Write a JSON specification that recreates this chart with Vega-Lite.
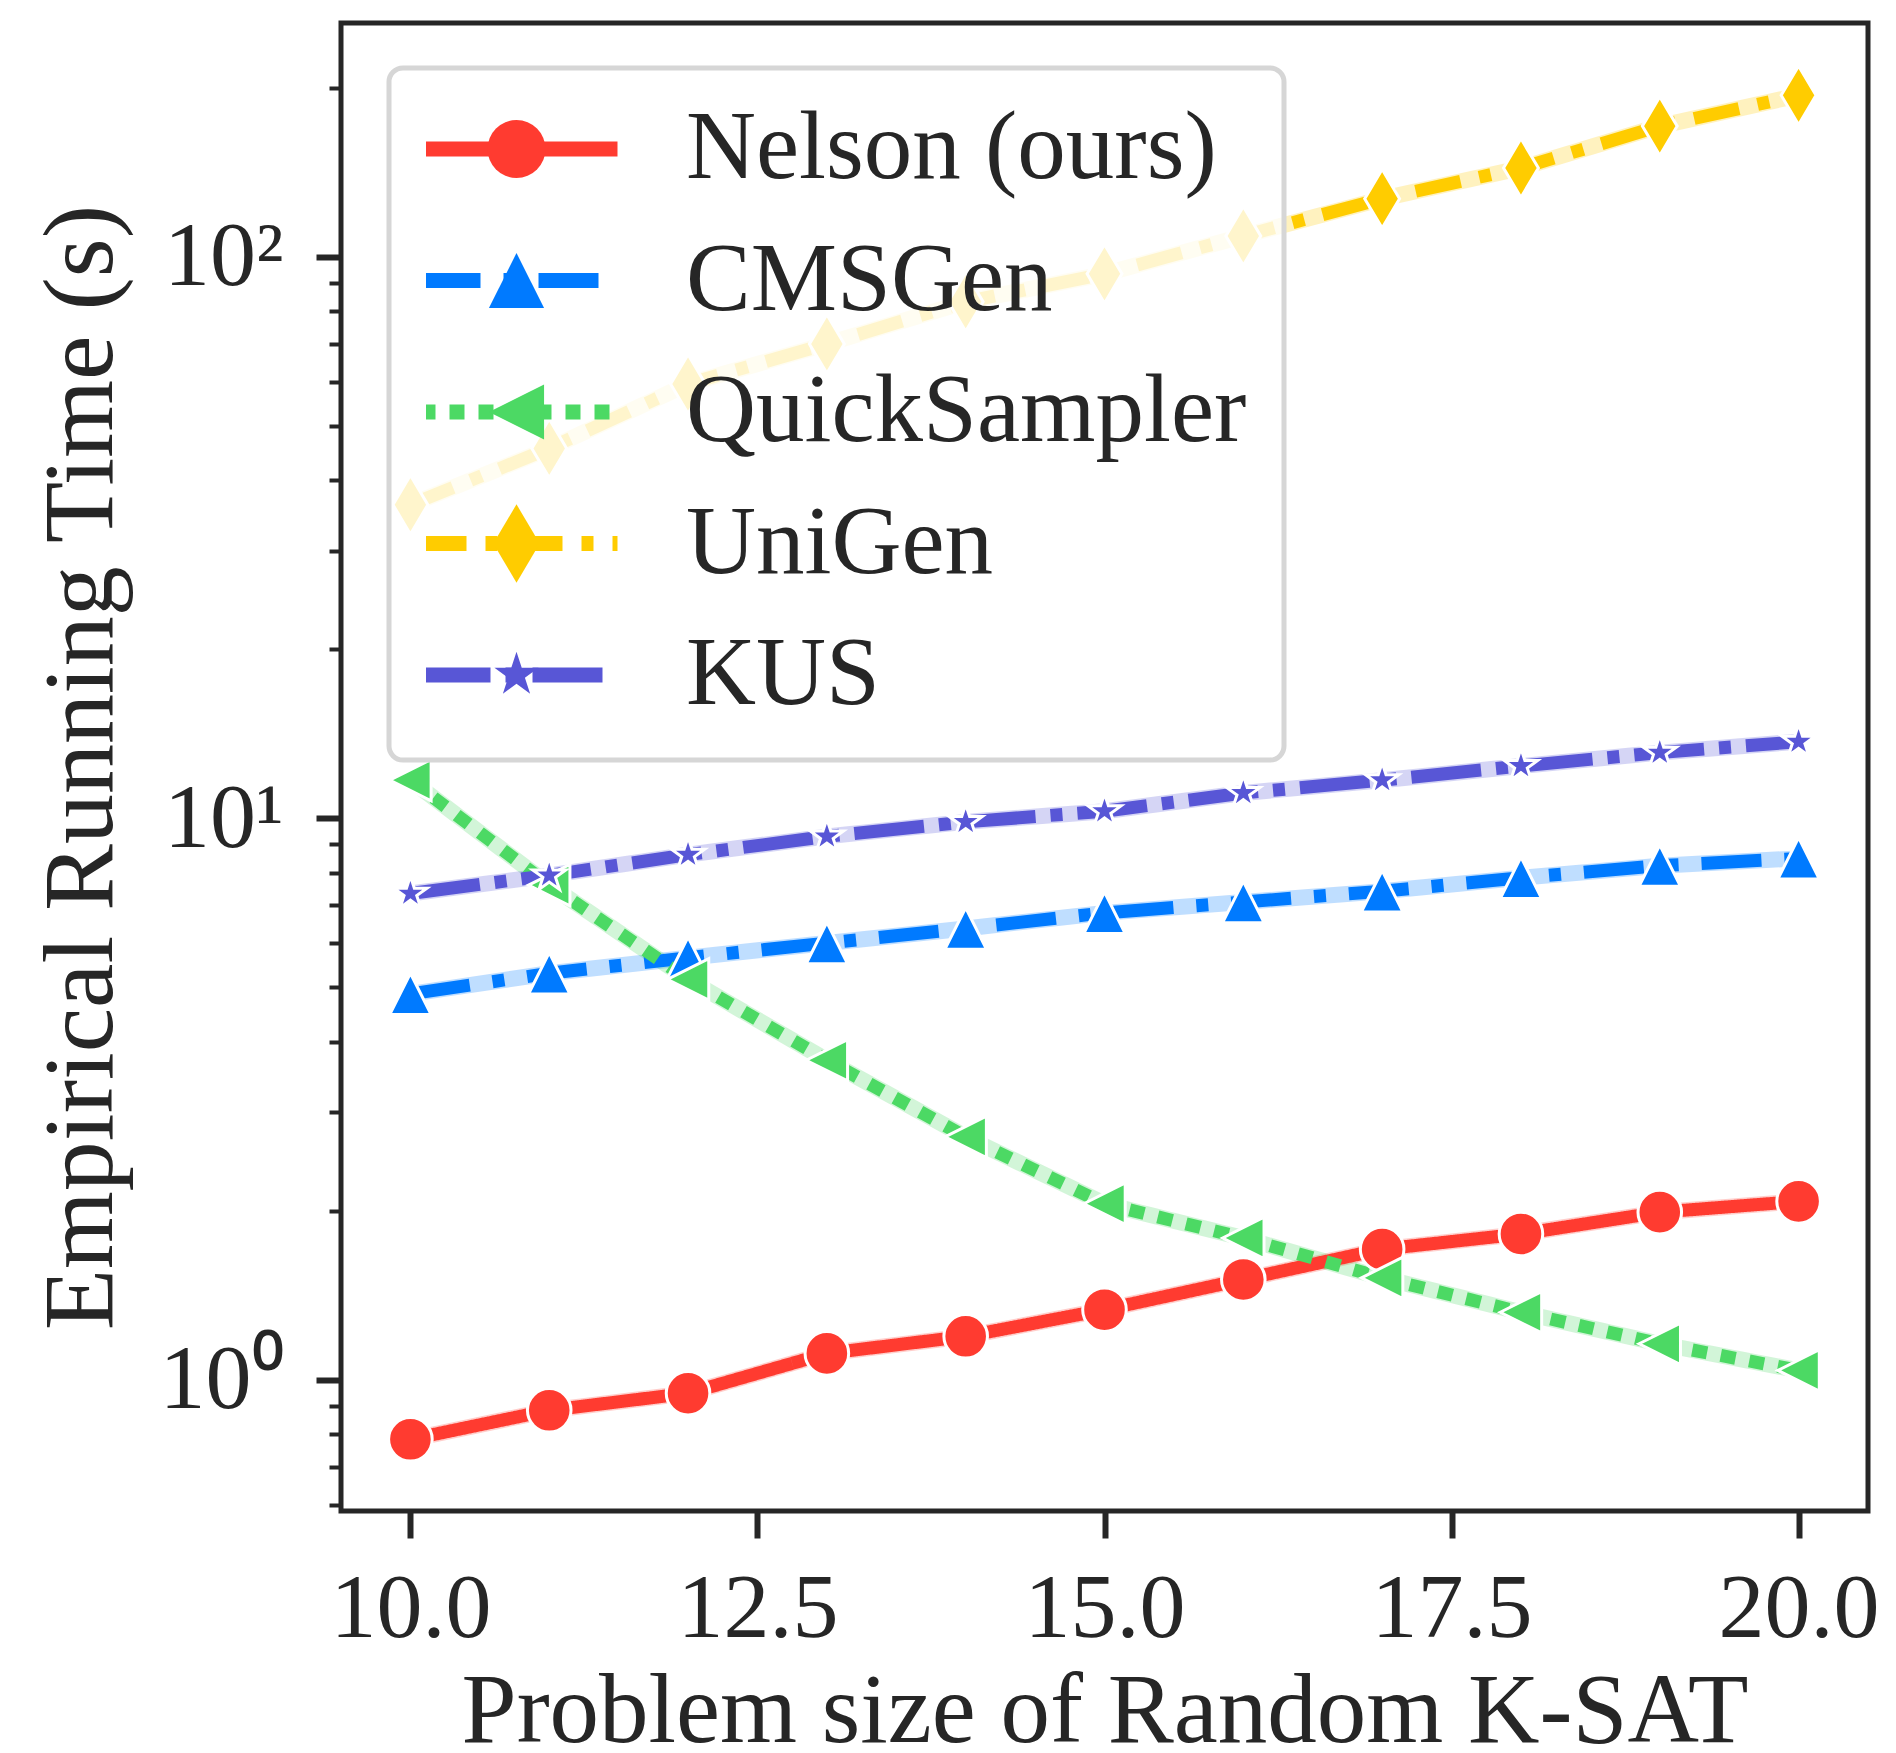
{
  "$schema": "https://vega.github.io/schema/vega-lite/v6.json",
  "autosize": {"type": "none"},
  "padding": {"left": 341, "top": 23, "right": 28, "bottom": 242},
  "width": 1527,
  "height": 1488,
  "background": "white",
  "config": {
    "font": "Liberation Serif",
    "view": {"stroke": "#262626", "strokeWidth": 5},
    "axis": {"grid": false, "domain": false, "labelFont": "Liberation Serif", "titleFont": "Liberation Serif", "labelColor": "#262626", "titleColor": "#262626", "tickColor": "#262626", "titleFontWeight": "normal", "labelFlush": false, "labelOverlap": false, "labelBound": false},
    "legend": {"labelFont": "Liberation Serif", "labelColor": "#262626", "labelLimit": 2000}
  },
  "data": {"values": [
    {"n": 10, "method": "Nelson (ours)", "t": 0.784},
    {"n": 11, "method": "Nelson (ours)", "t": 0.883},
    {"n": 12, "method": "Nelson (ours)", "t": 0.947},
    {"n": 13, "method": "Nelson (ours)", "t": 1.115},
    {"n": 14, "method": "Nelson (ours)", "t": 1.196},
    {"n": 15, "method": "Nelson (ours)", "t": 1.334},
    {"n": 16, "method": "Nelson (ours)", "t": 1.51},
    {"n": 17, "method": "Nelson (ours)", "t": 1.71},
    {"n": 18, "method": "Nelson (ours)", "t": 1.82},
    {"n": 19, "method": "Nelson (ours)", "t": 1.99},
    {"n": 20, "method": "Nelson (ours)", "t": 2.08},
    {"n": 10, "method": "CMSGen", "t": 4.87},
    {"n": 11, "method": "CMSGen", "t": 5.3},
    {"n": 12, "method": "CMSGen", "t": 5.65},
    {"n": 13, "method": "CMSGen", "t": 6.0},
    {"n": 14, "method": "CMSGen", "t": 6.37},
    {"n": 15, "method": "CMSGen", "t": 6.79},
    {"n": 16, "method": "CMSGen", "t": 7.1},
    {"n": 17, "method": "CMSGen", "t": 7.42},
    {"n": 18, "method": "CMSGen", "t": 7.84},
    {"n": 19, "method": "CMSGen", "t": 8.24},
    {"n": 20, "method": "CMSGen", "t": 8.49},
    {"n": 10, "method": "QuickSampler", "t": 11.7},
    {"n": 11, "method": "QuickSampler", "t": 7.61},
    {"n": 12, "method": "QuickSampler", "t": 5.17},
    {"n": 13, "method": "QuickSampler", "t": 3.71},
    {"n": 14, "method": "QuickSampler", "t": 2.71},
    {"n": 15, "method": "QuickSampler", "t": 2.06},
    {"n": 16, "method": "QuickSampler", "t": 1.79},
    {"n": 17, "method": "QuickSampler", "t": 1.52},
    {"n": 18, "method": "QuickSampler", "t": 1.32},
    {"n": 19, "method": "QuickSampler", "t": 1.16},
    {"n": 20, "method": "QuickSampler", "t": 1.04},
    {"n": 10, "method": "UniGen", "t": 36.2},
    {"n": 11, "method": "UniGen", "t": 45.6},
    {"n": 12, "method": "UniGen", "t": 59.4},
    {"n": 13, "method": "UniGen", "t": 70.0},
    {"n": 14, "method": "UniGen", "t": 83.2},
    {"n": 15, "method": "UniGen", "t": 93.3},
    {"n": 16, "method": "UniGen", "t": 109},
    {"n": 17, "method": "UniGen", "t": 127},
    {"n": 18, "method": "UniGen", "t": 144},
    {"n": 19, "method": "UniGen", "t": 171},
    {"n": 20, "method": "UniGen", "t": 194},
    {"n": 10, "method": "KUS", "t": 7.35},
    {"n": 11, "method": "KUS", "t": 7.92},
    {"n": 12, "method": "KUS", "t": 8.62},
    {"n": 13, "method": "KUS", "t": 9.29},
    {"n": 14, "method": "KUS", "t": 9.86},
    {"n": 15, "method": "KUS", "t": 10.3},
    {"n": 16, "method": "KUS", "t": 11.1},
    {"n": 17, "method": "KUS", "t": 11.7},
    {"n": 18, "method": "KUS", "t": 12.4},
    {"n": 19, "method": "KUS", "t": 13.1},
    {"n": 20, "method": "KUS", "t": 13.7}
  ]},
  "encoding": {
    "x": {"field": "n", "type": "quantitative",
      "scale": {"domain": [9.5, 20.5], "nice": false, "zero": false},
      "axis": {"values": [10, 12.5, 15, 17.5, 20], "format": ".1f", "tickSize": 27, "tickWidth": 6, "labelFontSize": 92, "labelPadding": 25, "title": "Problem size of Random K-SAT", "titleFontSize": 99, "titleBaseline": "alphabetic", "titleY": 230}},
    "y": {"field": "t", "type": "quantitative",
      "scale": {"type": "log", "domain": [0.5843, 261], "nice": false, "zero": false},
      "axis": {
        "values": [0.6, 0.7, 0.8, 0.9, 1, 2, 3, 4, 5, 6, 7, 8, 9, 10, 20, 30, 40, 50, 60, 70, 80, 90, 100, 200],
        "labelExpr": "datum.value == 1 ? '10⁰' : datum.value == 10 ? '10¹' : datum.value == 100 ? '10²' : ''",
        "tickSize": {"condition": {"test": "datum.value == 1 || datum.value == 10 || datum.value == 100", "value": 25}, "value": 12},
        "tickWidth": {"condition": {"test": "datum.value == 1 || datum.value == 10 || datum.value == 100", "value": 6}, "value": 4},
        "labelFontSize": 92, "labelPadding": 33,
        "title": "Empirical Running Time (s)", "titleFontSize": 100, "titleBaseline": "alphabetic", "titleX": -230, "titleY": 744, "titleAngle": 270, "titleAlign": "center"}}
  },
  "layer": [
    {
      "mark": {"type": "line", "strokeWidth": 16, "opacity": 0.25},
      "encoding": {
        "color": {"field": "method", "type": "nominal", "legend": null,
          "scale": {"domain": ["Nelson (ours)", "CMSGen", "QuickSampler", "UniGen", "KUS"], "range": ["#FF3B30", "#007AFF", "#4CD964", "#FFCC00", "#5856D6"]}}
      }
    },
    {
      "mark": {"type": "line", "strokeWidth": 13, "strokeCap": "butt"},
      "encoding": {
        "color": {"field": "method", "type": "nominal",
          "scale": {"domain": ["Nelson (ours)", "CMSGen", "QuickSampler", "UniGen", "KUS"], "range": ["#FF3B30", "#007AFF", "#4CD964", "#FFCC00", "#5856D6"]},
          "legend": {"orient": "none", "legendX": 48, "legendY": 45, "title": null, "symbolType": "stroke", "symbolSize": 38809, "symbolStrokeWidth": 15, "symbolOffset": -13, "labelFontSize": 97, "labelOffset": 61, "padding": 37, "rowPadding": 34.5, "clipHeight": 88, "fillColor": "rgba(255,255,255,0.8)", "strokeColor": "#d6d6d6", "cornerRadius": 14, "zindex": 1, "encode": {"legend": {"update": {"strokeWidth": {"value": 5}}}}}},
        "strokeDash": {"field": "method", "type": "nominal",
          "scale": {"domain": ["Nelson (ours)", "CMSGen", "QuickSampler", "UniGen", "KUS"], "range": [[1, 0], [60, 23, 12, 23], [15, 14], [46, 19, 12, 19], [70, 15, 12, 15]]}}
      }
    },
    {
      "mark": {"type": "point", "filled": true, "size": 1900, "opacity": 1, "stroke": "white", "strokeWidth": 3},
      "encoding": {
        "color": {"field": "method", "type": "nominal",
          "scale": {"domain": ["Nelson (ours)", "CMSGen", "QuickSampler", "UniGen", "KUS"], "range": ["#FF3B30", "#007AFF", "#4CD964", "#FFCC00", "#5856D6"]},
          "legend": {"orient": "none", "legendX": 48, "legendY": 45, "title": null, "symbolSize": 3364, "symbolStrokeWidth": 0, "symbolOffset": 42, "labelFontSize": 97, "labelOpacity": 0, "labelExpr": "''", "labelOffset": 61, "padding": 37, "rowPadding": 34.5, "clipHeight": 88, "zindex": 1}},
        "shape": {"field": "method", "type": "nominal",
          "scale": {"domain": ["Nelson (ours)", "CMSGen", "QuickSampler", "UniGen", "KUS"], "range": ["circle", "M0,-0.95L0.95,0.95L-0.95,0.95Z", "M-0.95,0L0.95,-0.95L0.95,0.95Z", "M0,-1.35L0.8,0L0,1.35L-0.8,0Z", "M0,-0.8L0.18,-0.247L0.761,-0.247L0.29,0.094L0.47,0.647L0,0.306L-0.47,0.647L-0.29,0.094L-0.761,-0.247L-0.18,-0.247Z"]}}
      }
    }
  ],
  "resolve": {"scale": {"color": "independent", "shape": "independent", "strokeDash": "independent"}}
}
